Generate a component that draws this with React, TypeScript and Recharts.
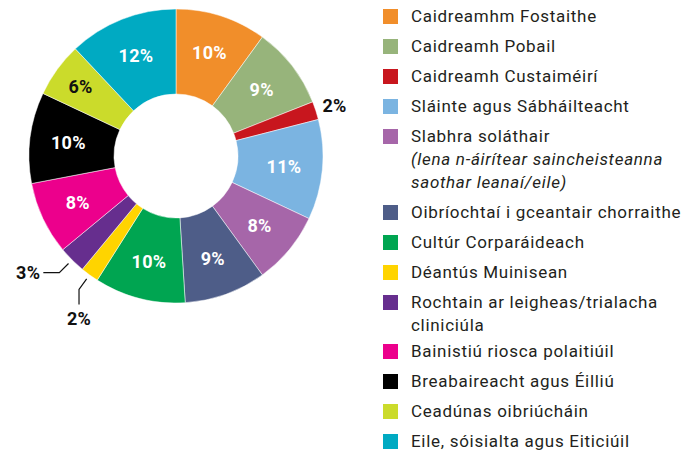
import React from "react";
import { PieChart, Pie, Cell } from "recharts";

const categories: string[] = [
  "Caidreamhm Fostaithe",
  "Caidreamh Pobail",
  "Caidreamh Custaiméirí",
  "Sláinte agus Sábháilteacht",
  "Slabhra soláthair",
  "Oibríochtaí i gceantair chorraithe",
  "Cultúr Corparáideach",
  "Déantús Muinisean",
  "Rochtain ar leigheas/trialacha\ncliniciúla",
  "Bainistiú riosca polaitiúil",
  "Breabaireacht agus Éilliú",
  "Ceadúnas oibriúcháin",
  "Eile, sóisialta agus Eiticiúil",
];

const notes: string[] = [
  "", "", "", "",
  "(lena n-áirítear saincheisteanna\nsaothar leanaí/eile)",
  "", "", "", "", "", "", "", "",
];

const values: number[] = [10, 9, 2, 11, 8, 9, 10, 2, 3, 8, 10, 6, 12];

const colors: string[] = [
  "#F18E2A",
  "#97B47B",
  "#C8161E",
  "#7BB4E1",
  "#A666A9",
  "#4E5D88",
  "#00A551",
  "#FFD400",
  "#662E8E",
  "#EC008C",
  "#000000",
  "#CBDB2B",
  "#00AAC2",
];

const data = categories.map((name, i) => ({ name, value: values[i], note: notes[i], color: colors[i] }));

const FONT = "Roboto, 'Noto Sans', sans-serif";
const RAD = Math.PI / 180;

const renderLabel = (props: any) => {
  const { cx, cy, midAngle, innerRadius, outerRadius, index, value } = props;
  const c = Math.cos(-midAngle * RAD);
  const s = Math.sin(-midAngle * RAD);
  const txt = `${value}%`;
  const common = { fontFamily: FONT, fontWeight: 700, fontSize: 18, letterSpacing: 0.3 } as any;
  if (index === 2) {
    const r = outerRadius + 7;
    return (
      <text x={cx + r * c} y={cy + r * s - 3} textAnchor="start" dominantBaseline="central" fill="#111" {...common}>
        {txt}
      </text>
    );
  }
  if (index === 8 || index === 7) {
    const p1 = { x: cx + (outerRadius + 5) * c, y: cy + (outerRadius + 5) * s };
    const p2 = { x: cx + (outerRadius + 18) * c, y: cy + (outerRadius + 18) * s };
    if (index === 8) {
      const p3 = { x: p2.x - 16, y: p2.y };
      return (
        <g>
          <polyline points={`${p1.x},${p1.y} ${p2.x},${p2.y} ${p3.x},${p3.y}`} fill="none" stroke="#111" strokeWidth={1.2} />
          <text x={p3.x - 3} y={p3.y} textAnchor="end" dominantBaseline="central" fill="#111" {...common}>
            {txt}
          </text>
        </g>
      );
    }
    const p3 = { x: p2.x, y: p2.y + 15 };
    return (
      <g>
        <polyline points={`${p1.x},${p1.y} ${p2.x},${p2.y} ${p3.x},${p3.y}`} fill="none" stroke="#111" strokeWidth={1.2} />
        <text x={p3.x} y={p3.y + 14} textAnchor="middle" dominantBaseline="central" fill="#111" {...common}>
          {txt}
        </text>
      </g>
    );
  }
  const r = index === 11 ? 118 : (innerRadius + outerRadius) / 2 + 4;
  return (
    <text
      x={cx + r * c}
      y={cy + r * s}
      textAnchor="middle"
      dominantBaseline="central"
      fill={index === 11 ? "#111" : "#fff"}
      {...common}
    >
      {txt}
    </text>
  );
};

const LegendBlock = () => (
  <div
    style={{
      position: "absolute",
      left: 383,
      top: 5,
      width: 316,
      display: "flex",
      flexDirection: "column",
      fontFamily: FONT,
      fontSize: 17,
      letterSpacing: 0.7,
      color: "#231F20",
    }}
  >
    {data.map((d, i) => (
      <div
        key={i}
        style={{
          display: "flex",
          alignItems: "flex-start",
          lineHeight: "23px",
          marginBottom: d.name.includes("\n") ? 3 : 7,
        }}
      >
        <div style={{ width: 15, height: 15, background: d.color, marginTop: 4, marginRight: 13, flexShrink: 0 }} />
        <div style={{ whiteSpace: "pre-line" }}>
          {d.name}
          {d.note ? <div style={{ fontStyle: "italic" }}>{d.note}</div> : null}
        </div>
      </div>
    ))}
  </div>
);

export default function App() {
  return (
    <div style={{ position: "absolute", left: 0, top: 0, width: 699, height: 450, background: "#fff" }}>
      <PieChart width={699} height={450} margin={{ top: 0, right: 0, bottom: 0, left: 0 }}>
        <Pie
          data={data}
          dataKey="value"
          nameKey="name"
          cx={176}
          cy={156}
          innerRadius={62}
          outerRadius={147}
          startAngle={90}
          endAngle={-270}
          stroke="#fff"
          strokeWidth={0.5}
          label={renderLabel}
          labelLine={false}
          isAnimationActive={false}
        >
          {data.map((d, i) => (
            <Cell key={i} fill={d.color} />
          ))}
        </Pie>
      </PieChart>
      <LegendBlock />
    </div>
  );
}
